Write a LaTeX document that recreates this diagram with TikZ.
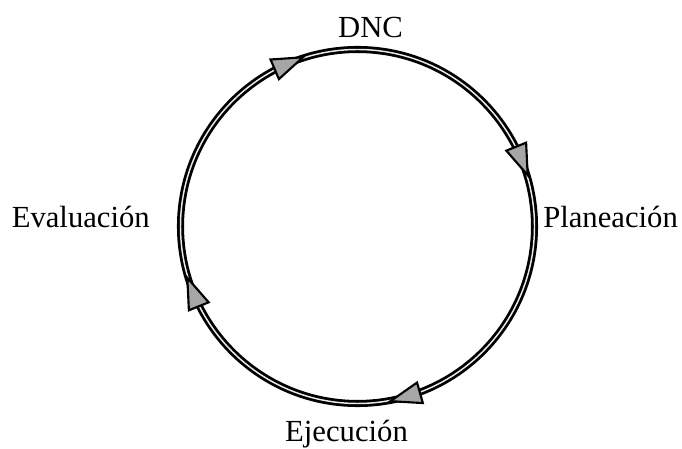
\documentclass[tikz,border=0pt]{standalone}
\usepackage{fontspec}
\setmainfont{Liberation Serif}
\usetikzlibrary{decorations.markings}

\begin{document}
\begin{tikzpicture}[
  x = 0.75pt, y = 0.75pt,
  every node/.style = {font=\fontsize{23}{27}\selectfont, inner sep=0pt},
  stage/.style = {anchor=base},
  ring/.style  = {draw=black, line width=2.1pt, double=black!8, double distance=1.1pt},
  tip/.style   = {fill=black!35, draw=black, line width=1.6pt, line join=miter},
  headat/.style = {postaction={decorate, decoration={markings,
                   mark=at position #1 with {\filldraw[tip] (12pt,0) -- (-11pt,8pt) -- (-11pt,-8pt) -- cycle;}}}}
]
\useasboundingbox (0,0) rectangle (682,449);

% ---- cycle centre and stage labels -----------------------------------
\coordinate (ctr) at (357.5,222.5);
\node[stage, anchor=base]      (dnc)  at (370.5,411) {DNC};
\node[stage, anchor=base west] (plan) at (543,221)   {Planeación};
\node[stage, anchor=base]      (ejec) at (346.5,7)   {Ejecución};
\node[stage, anchor=base east] (eval) at (150,221)   {Evaluación};

% ---- the ring, run clockwise, with one head between each pair of stages
\draw[ring, headat=0.686, headat=0.939, headat=0.206, headat=0.439]
  (ctr) ++(0:177) arc[start angle=0, end angle=-360, radius=177];

\end{tikzpicture}
\end{document}
